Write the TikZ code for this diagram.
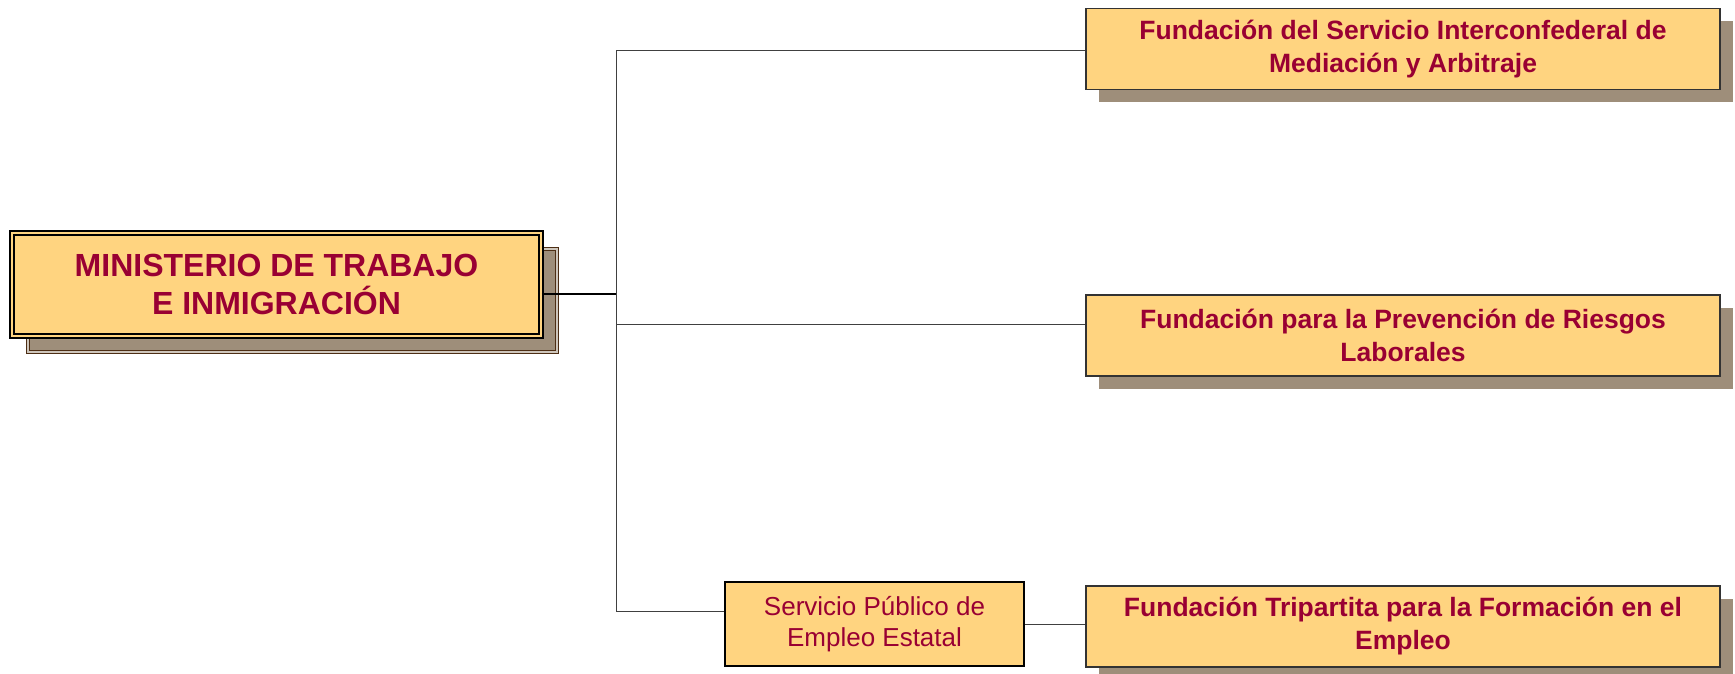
\documentclass[tikz,border=0pt]{standalone}
\usepackage{fontspec}
\setmainfont{Liberation Sans}
\usetikzlibrary{positioning,shadows}

\begin{document}
\begin{tikzpicture}[x=1pt,y=-1pt,
		caja/.style={draw=black!80, line width=1.2pt, fill=cCaja, text=cTexto,
			align=center, minimum width=634pt, minimum height=81pt,
			font=\fontsize{26.5}{33}\selectfont\bfseries,
			general shadow={fill=cSombra, shadow xshift=13pt, shadow yshift=-13pt}},
		linea/.style={line width=1pt, black!75}]
		% Colores
		\definecolor{cCaja}{RGB}{255,212,128}
		\definecolor{cTexto}{RGB}{153,0,51}
		\definecolor{cSombra}{RGB}{158,142,122}
		\definecolor{cMarron}{RGB}{77,46,20}
		
		\useasboundingbox[fill=white] (0,0) rectangle (1735,674);
		
		% Columna del tronco
		\def\xt{616}
		\def\xf{1403}
		
		% Ministerio
		\node[draw=black, line width=1.7pt, double=cCaja, double distance=2.5pt,
		fill=cCaja, text=cTexto, align=center, minimum width=529pt, minimum height=103pt,
		font=\fontsize{32}{38}\selectfont\bfseries,
		general shadow={fill=cSombra, draw=cMarron, line width=1.6pt, double=cSombra!50,
			double distance=1.5pt, shadow xshift=16pt, shadow yshift=-16pt}]
		(mti) at (276.5,284.5) {MINISTERIO DE TRABAJO\\E INMIGRACIÓN};
		
		% Fundaciones
		\foreach \nom/\y/\txt in {fsima/49/{Fundación del Servicio Interconfederal de\\Mediación y Arbitraje},
			fprl/335.5/{Fundación para la Prevención de Riesgos\\Laborales},
			ftfe/626.5/{Fundación Tripartita para la Formación en el\\Empleo}}{
			\node[caja] (\nom) at (\xf,\y) {\txt};
		}
		
		% Servicio Publico de Empleo Estatal
		\node[draw=black, line width=2pt, fill=cCaja, text=cTexto, align=center,
		minimum width=299pt, minimum height=84pt, font=\fontsize{26}{31}\selectfont]
		(sepe) at (874.5,624) {Servicio Público de\\Empleo Estatal};
		
		% Conexiones
		\coordinate (hub) at (\xt,294);
		\coordinate (jTop) at (\xt,51);
		\coordinate (jMid) at (\xt,324);
		\coordinate (jBot) at (\xt,611);
		\draw[line width=1.6pt] (mti.east |- hub) -- (hub);
		\draw[linea] (jTop) -- (jBot);
		\draw[linea] (jTop) -- (jTop -| fsima.west);
		\draw[linea] (jMid) -- (jMid -| fprl.west);
		\draw[linea] (jBot) -- (jBot -| sepe.west);
		\draw[linea] (sepe.east) -- (sepe.east -| ftfe.west);
	\end{tikzpicture}
\end{document}
